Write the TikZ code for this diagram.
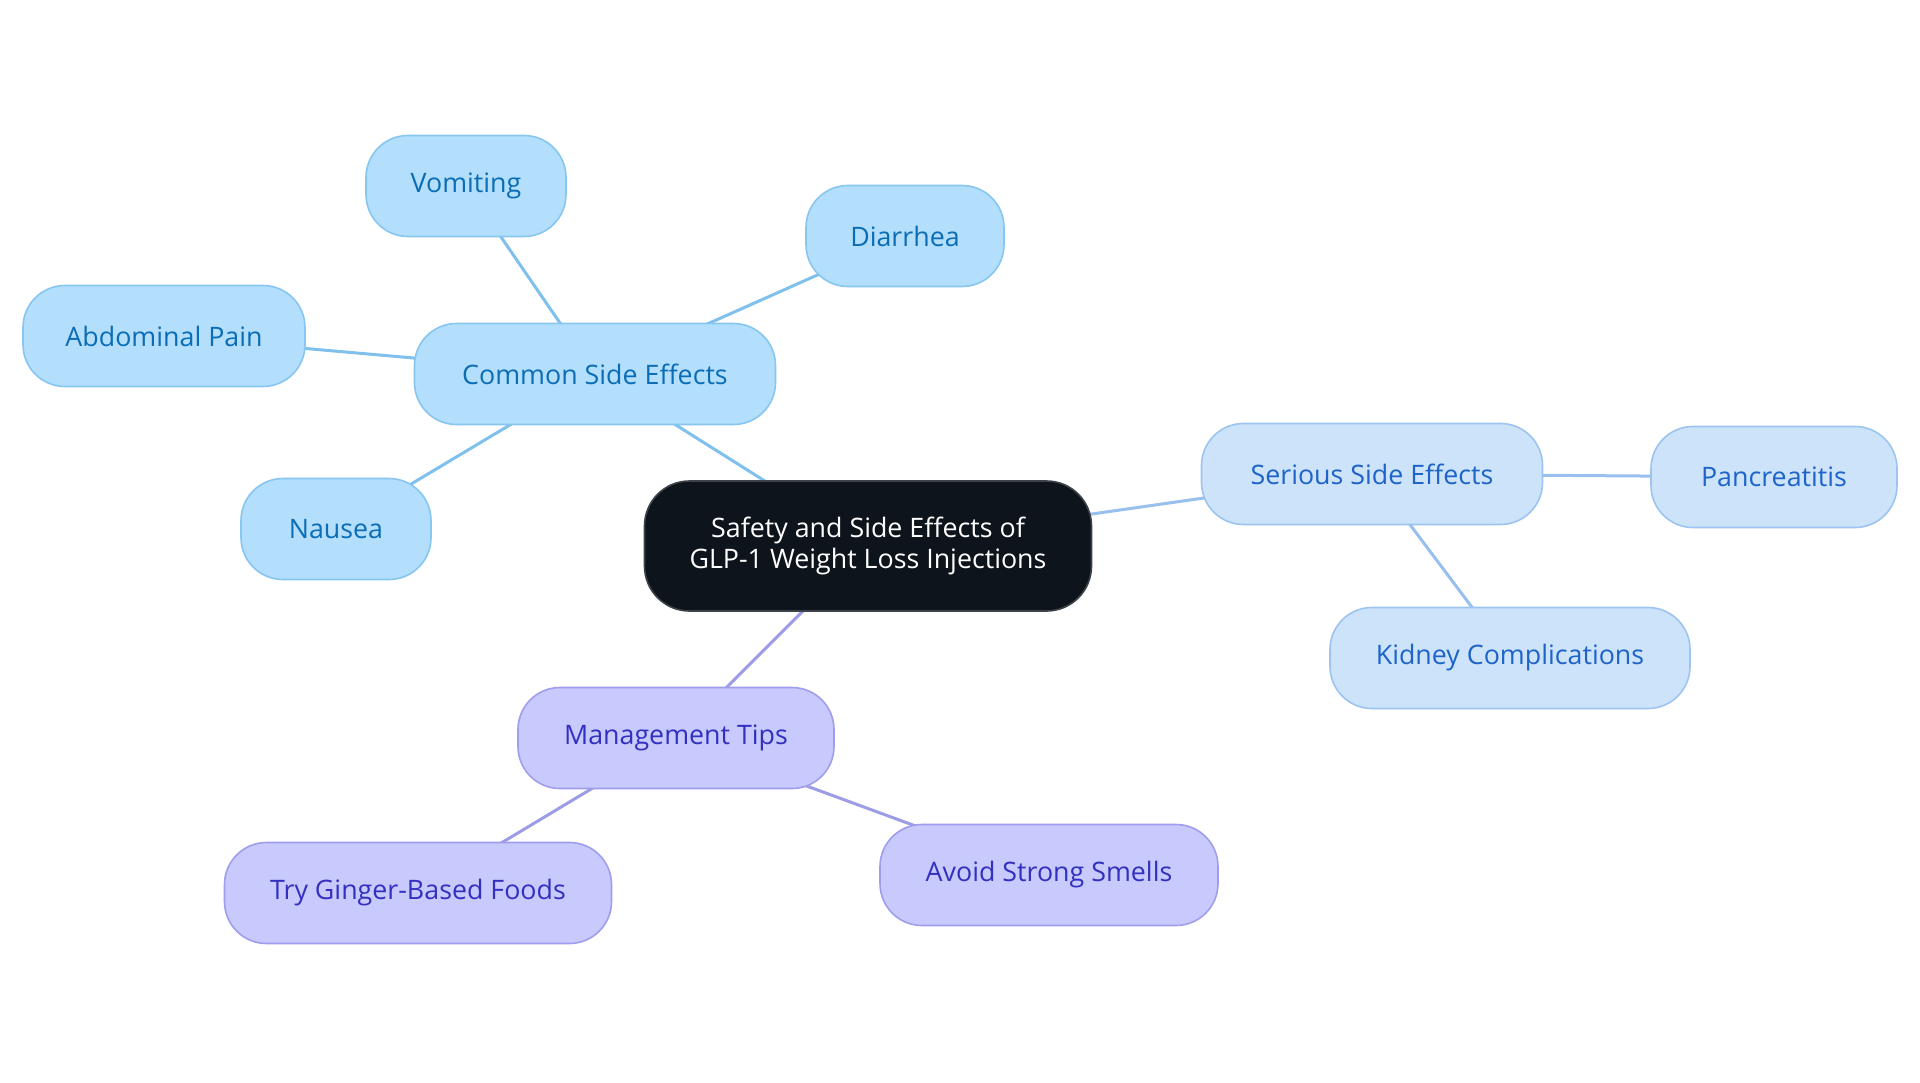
\documentclass[tikz,border=0pt]{standalone}
\usepackage{fontspec}
\setmainfont{Open Sans}
\usetikzlibrary{backgrounds}
\definecolor{cfill}{HTML}{B3DFFC}
\definecolor{cdraw}{HTML}{86C6F0}
\definecolor{ctext}{HTML}{0B6DB5}
\definecolor{cedge}{HTML}{7FC0EC}
\definecolor{sfill}{HTML}{CCE3FA}
\definecolor{sdraw}{HTML}{9CC4F0}
\definecolor{stext}{HTML}{1E64C8}
\definecolor{sedge}{HTML}{98C0EE}
\definecolor{mfill}{HTML}{C8C9FC}
\definecolor{mdraw}{HTML}{A09EEC}
\definecolor{mtext}{HTML}{3330C0}
\definecolor{medge}{HTML}{9D9CE6}
\definecolor{rootfill}{HTML}{0D141B}
\tikzset{
  box/.style={rectangle, rounded corners=42pt, minimum height=101pt, inner sep=0pt,
    line width=1.6pt, font=\fontsize{26.8}{30.5}\selectfont, align=center},
  cbox/.style={box, fill=cfill, draw=cdraw, text=ctext},
  sbox/.style={box, fill=sfill, draw=sdraw, text=stext},
  mbox/.style={box, fill=mfill, draw=mdraw, text=mtext},
  rootbox/.style={box, rounded corners=45pt, fill=rootfill, draw=rootfill!80!white, text=white, minimum height=130pt},
  cline/.style={draw=cedge, line width=3pt},
  sline/.style={draw=sedge, line width=3pt},
  mline/.style={draw=medge, line width=3pt},
}
\begin{document}
\begin{tikzpicture}[x=1pt,y=-1pt]
\node[rootbox, minimum width=447pt] (root) at (868,546) {Safety and Side Effects of\\GLP-1 Weight Loss Injections};
\node[cbox, minimum width=361pt] (common) at (595,374) {Common Side Effects};
\node[cbox, minimum width=200pt] (vomit) at (466,186) {Vomiting};
\node[cbox, minimum width=282pt] (abdo) at (164,336) {Abdominal Pain};
\node[cbox, minimum width=190pt] (nausea) at (336,529) {Nausea};
\node[cbox, minimum width=198pt] (diar) at (905,236) {Diarrhea};
\node[sbox, minimum width=341pt] (serious) at (1372,474) {Serious Side Effects};
\node[sbox, minimum width=246pt] (pancr) at (1774,477) {Pancreatitis};
\node[sbox, minimum width=360pt] (kidney) at (1510,658) {Kidney Complications};
\node[mbox, minimum width=316pt] (mgmt) at (676,738) {Management Tips};
\node[mbox, minimum width=387pt] (ginger) at (418,893) {Try Ginger-Based Foods};
\node[mbox, minimum width=338pt] (smell) at (1049,875) {Avoid Strong Smells};
\begin{scope}[on background layer]
\fill[white] (0,0) rectangle (1920,1083);
\draw[cline] (root.center) -- (common.center);
\draw[cline] (common.center) -- (vomit.center);
\draw[cline] (common.center) -- (abdo.center);
\draw[cline] (common.center) -- (nausea.center);
\draw[cline] (common.center) -- (diar.center);
\draw[sline] (root.center) -- (serious.center);
\draw[sline] (serious.center) -- (pancr.center);
\draw[sline] (serious.center) -- (kidney.center);
\draw[mline] (root.center) -- (mgmt.center);
\draw[mline] (mgmt.center) -- (ginger.center);
\draw[mline] (mgmt.center) -- (smell.center);
\end{scope}
\useasboundingbox (0,0) rectangle (1920,1083);
\end{tikzpicture}
\end{document}
